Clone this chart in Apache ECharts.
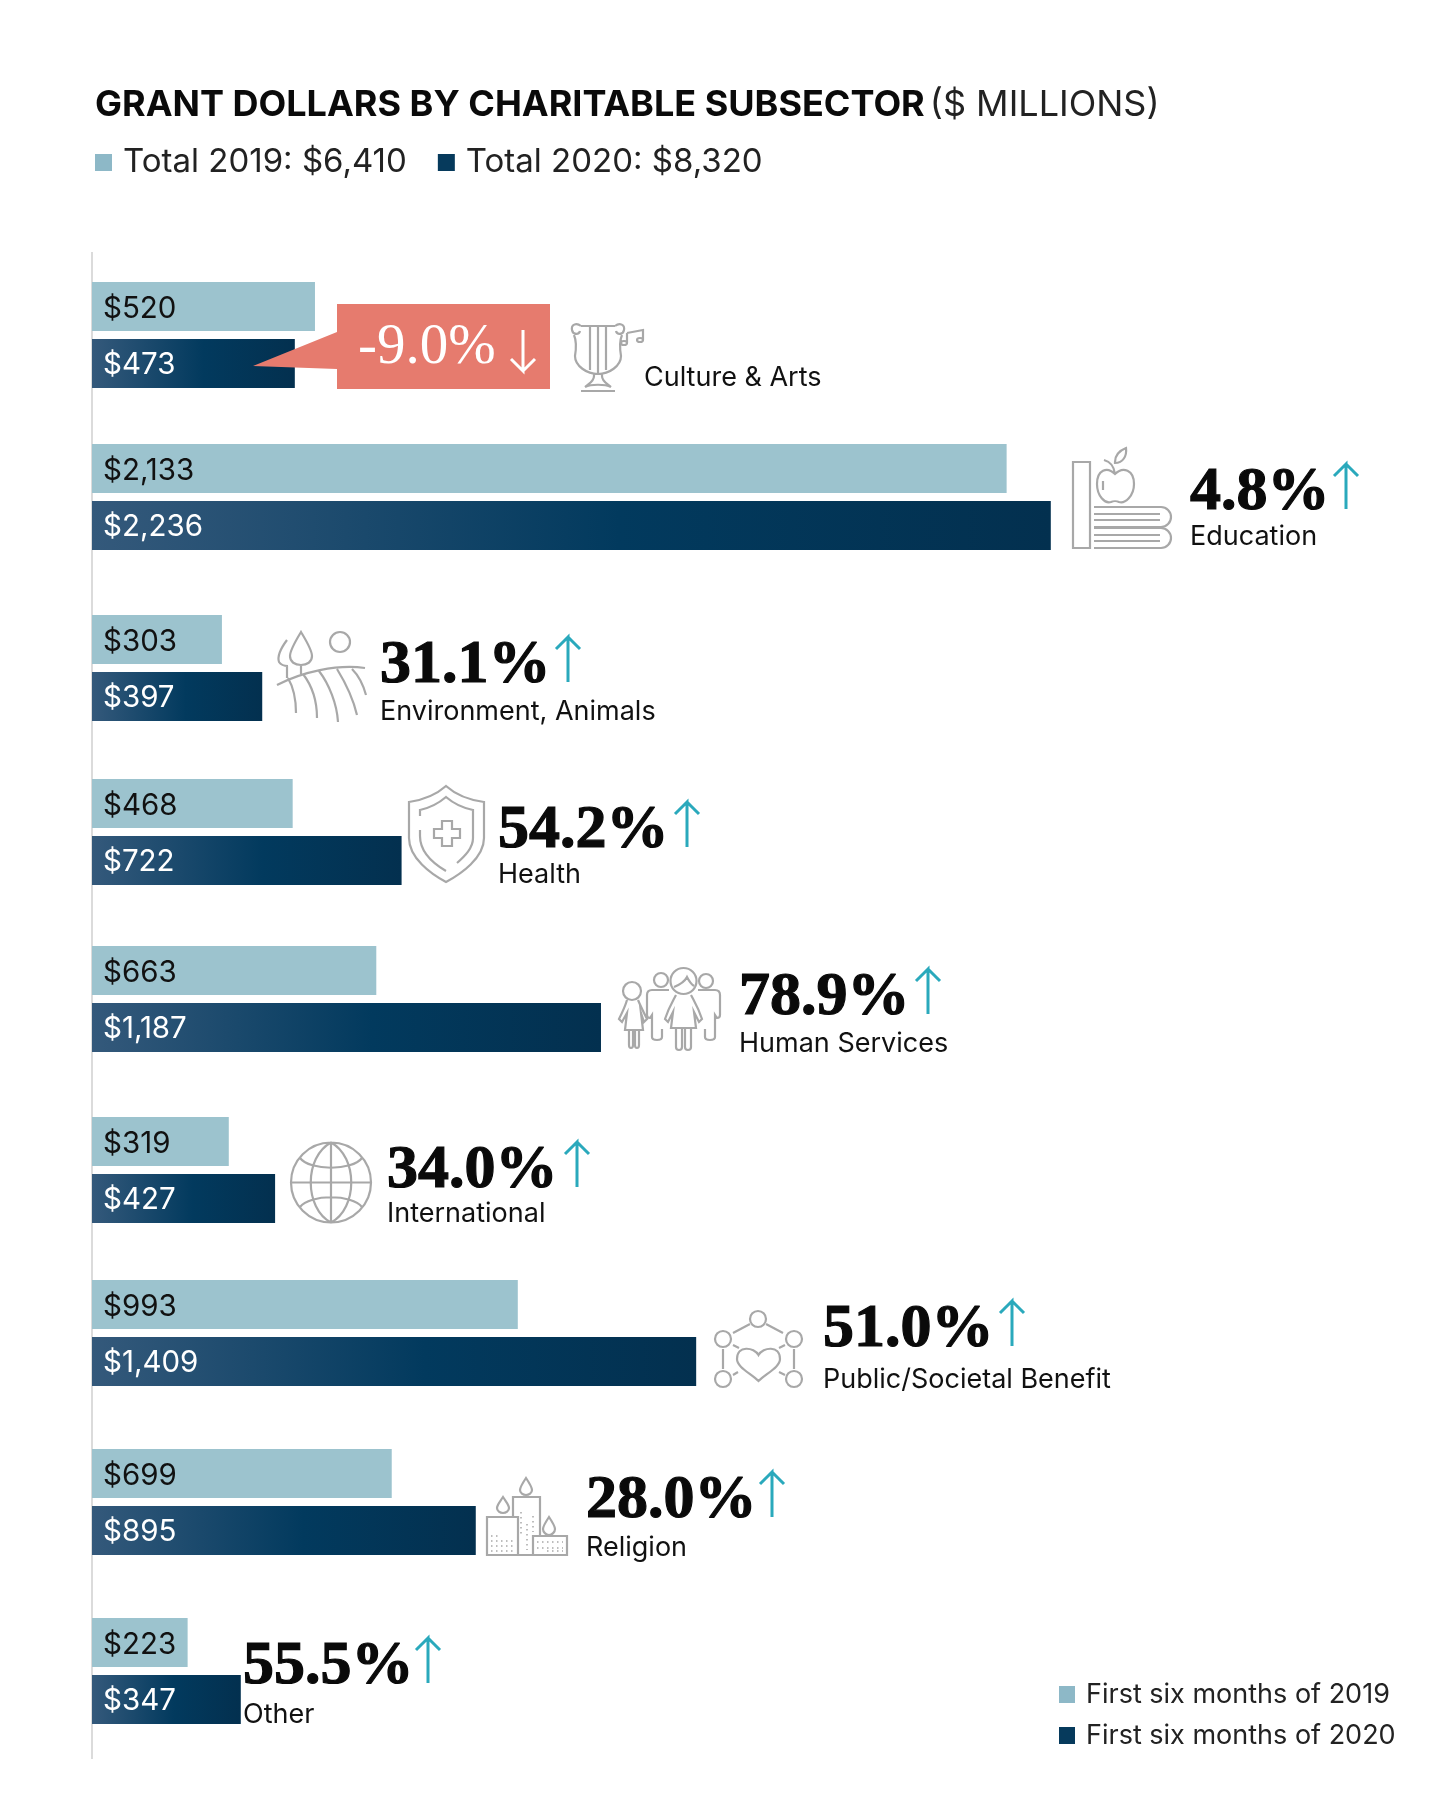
<!DOCTYPE html>
<html>
<head>
<meta charset="utf-8">
<title>Grant dollars by charitable subsector</title>
<style>
    html, body { margin: 0; padding: 0; background: #fff; }
    #chart { width: 1442px; height: 1800px; }
</style>
<script src="https://cdn.jsdelivr.net/npm/echarts@6/dist/echarts.min.js"></script>
</head>
<body>
<div id="chart"></div>
<script>
'use strict';

const categories = ['Culture & Arts', 'Education', 'Environment, Animals', 'Health', 'Human Services',
    'International', 'Public/Societal Benefit', 'Religion', 'Other'];
const values2019 = [520, 2133, 303, 468, 663, 319, 993, 699, 223];
const values2020 = [473, 2236, 397, 722, 1187, 427, 1409, 895, 347];
const changes = [-9.0, 4.8, 31.1, 54.2, 78.9, 34.0, 51.0, 28.0, 55.5];
const totals = { 'First six months of 2019': 'Total 2019: $6,410', 'First six months of 2020': 'Total 2020: $8,320' };

const sansFont = 'Inter';
const serifFont = '"Liberation Serif"';
const lightBlue = '#9cc3ce';
const gray = '#a8a8a8';
const teal = '#2aa9bc';
const coral = '#e67b6e';

// the rows in the picture are not evenly spaced, so each one gets its own grid
const rowTops = [282, 444, 615, 779, 946, 1117, 1280, 1449, 1618];
const axisLeft = 92;

// x of the percent text, its baseline, x of the arrow, baseline of the name
const notes = [
    null,
    { x: 1190, base: 509, arrow: 1346, nameBase: 544 },
    { x: 380, base: 682, arrow: 568, nameBase: 719 },
    { x: 498, base: 847, arrow: 687, nameBase: 882 },
    { x: 739, base: 1014, arrow: 928, nameBase: 1051 },
    { x: 387, base: 1187, arrow: 577, nameBase: 1221 },
    { x: 823, base: 1346, arrow: 1012, nameBase: 1387 },
    { x: 586, base: 1517, arrow: 772, nameBase: 1555 },
    { x: 243, base: 1683, arrow: 428, nameBase: 1722 },
];

const circle = (cx, cy, r) => ` M${cx + r} ${cy} a${r} ${r} 0 1 1 ${-2 * r} 0 a${r} ${r} 0 1 1 ${2 * r} 0 Z`;

const icons = [
    { x: 571, y: 322, d: 'M10 4 C5 0 0 3 1 8 C2 13 8 13 9 9 M3 13 C6 20 5 28 4 34 C4 44 16 52 27 52 C38 52 50 44 50 34 C49 28 48 20 51 13 M44 4 C49 0 54 3 53 8 C52 13 46 13 45 9'
        + ' M10 4 H44 M19 4 V48 M27 4 V51 M35 4 V48 M23 52 V54 C23 60 17 62 14 65 M31 52 V54 C31 60 37 62 40 65 M14 65 C20 62 34 62 40 65 M10 69 H44'
        + ' M56 11 L72 8 V18 M56 11 V21 M56 21 a3 2 0 1 1 -6 0 a3 2 0 1 1 6 0 M72 18 a3 2 0 1 1 -6 0 a3 2 0 1 1 6 0' },
    { x: 1073, y: 448, d: 'M0 14 H17 V100 H0 Z M21 59 H88 a10 10 0 0 1 0 20 H21 M21 80 H88 a10 10 0 0 1 0 20 H21 M21 66 H87 M21 72 H87 M21 87 H87 M21 93 H87'
        + ' M42 26 C34 18 24 22 24 36 C24 48 32 56 38 54 C40 53 44 53 46 54 C52 56 61 48 61 36 C61 22 50 18 42 26 Z M42 26 C41 18 38 14 31 12'
        + ' M42 14 C42 6 48 2 53 0 C54 8 50 15 42 15 Z M30 33 V42' },
    { x: 277, y: 632, d: 'M24 0 C18 10 13 18 13 24 C13 30 18 33 24 33 C30 33 35 30 35 24 C35 18 30 10 24 0 Z M24 33 V42 M10 8 C4 16 0 24 2 30 C4 33 8 34 11 34 M10 34 V46'
        + circle(63, 10, 10) + ' M0 53 C25 40 60 32 88 36 M11 46 C18 58 19 70 19 81 M26 42 C36 55 40 72 40 86 M42 39 C52 52 60 72 61 90 M60 37 C68 50 76 66 80 83 M75 37 C80 42 86 52 89 63' },
    { x: 409, y: 786, d: 'M37 0 C28 8 14 14 0 16 V52 C0 72 22 88 37 96 C52 88 75 72 75 52 V16 C60 14 46 8 37 0 Z'
        + ' M11 30 V24 C20 22 30 17 37 11 C44 17 54 22 64 24 V52 C64 62 56 70 48 77 M37 85 C25 78 11 66 11 50 V44'
        + ' M33 35 h10 v8 h8 v9 h-8 v8 h-10 v-8 h-8 v-9 h8 Z' },
    { x: 619, y: 967, d: circle(42, 13, 7) + circle(87, 14, 7)
        + ' M50 23 H33 Q28 23 28 28 V48 Q28 51 31 51 L33 48 V70 Q33 73 38 73 Q43 73 43 70 V62'
        + ' M79 23 H96 Q101 23 101 28 V48 Q101 51 98 51 L96 48 V70 Q96 73 91 73 Q86 73 86 70 V62'
        + circle(64.5, 14, 13) + ' M55 20 C60 18 66 14 68 10 C70 14 72 17 75 19'
        + ' M57 28 C54 34 50 40 46 52 L49 55 L54 45 L52 61 H77 L75 45 L80 55 L83 52 C79 40 75 34 72 28'
        + ' M57 61 V80 Q57 83 60 83 Q63 83 63 80 V61 M66 61 V80 Q66 83 69 83 Q72 83 72 80 V61'
        + circle(13, 24, 9) + ' M8 33 C6 40 3 46 0 52 L3 55 L8 46 L6 63 H24 L22 46 L25 55 L28 52 C25 46 22 40 19 33'
        + ' M10 63 V78 Q10 81 12 81 Q14 81 14 78 V63 M16 63 V78 Q16 81 18 81 Q20 81 20 78 V63' },
    { x: 290, y: 1141, d: circle(41, 41.5, 40) + ' M41 1.5 V81.5 M1 41.5 H81 M41 1.5 C14 16 14 67 41 81.5 C68 67 68 16 41 1.5 Z M10 17 C20 30 62 30 72 17 M10 66 C20 53 62 53 72 66' },
    { x: 714, y: 1311, d: circle(44, 8, 8) + circle(9, 28, 8) + circle(80, 28, 8) + circle(9, 68, 8) + circle(80, 68, 8)
        + ' M19 22 L36 13 M52 13 L69 22 M9 38 V58 M80 38 V58 M19 34 L25 37 M71 34 L65 37 M19 64 L24 61 M71 64 L65 61'
        + ' M44.5 44 C40 36 23 34 23 48 C23 56 36 62 44.5 70 C53 62 66 56 66 48 C66 34 49 36 44.5 44 Z' },
    { x: 487, y: 1478, d: 'M0 39 H31 V77 H0 Z M26 39 V19 H53 V58 M31 77 H80 V58 H46 V77 M39 0 C35 6 33 9 33 12 C33 15 36 17 39 17 C42 17 45 15 45 12 C45 9 43 6 39 0 Z'
        + ' M16 19 C12 25 10 27 10 30 C10 33 13 35 16 35 C19 35 22 33 22 30 C22 27 20 25 16 19 Z M62 39 C58 45 56 48 56 51 C56 54 59 57 62 57 C65 57 68 54 68 51 C68 48 66 45 62 39 Z',
        dots: 'M4 58 H14 M4 63 H26 M4 68 H26 M4 73 H28 M34 34 V56 M40 46 V72 M46 38 V54 M50 64 H76 M50 70 H76 M60 73 H76' },
];

const gradient2020 = new echarts.graphic.LinearGradient(0, 0, 1, 0, [
    { offset: 0, color: '#34597b' },
    { offset: 0.55, color: '#023a5e' },
    { offset: 1, color: '#03304f' },
]);

const money = (v) => '$' + v.toLocaleString('en-US');

const grids = [];
const xAxes = [];
const yAxes = [];
const series = [];

categories.forEach((name, i) => {
    grids.push({ left: axisLeft, top: rowTops[i], width: 1072, height: 106 });
    xAxes.push({ gridIndex: i, type: 'value', min: 0, max: 2500, show: false });
    yAxes.push({ gridIndex: i, type: 'category', data: [name], inverse: true, show: false });

    const bar = (seriesName, value, color, labelColor, offsetY) => ({
        type: 'bar',
        name: seriesName,
        xAxisIndex: i,
        yAxisIndex: i,
        data: [value],
        barWidth: 49,
        barGap: '16.3%',
        itemStyle: { color },
        silent: true,
        label: {
            show: true,
            position: 'insideLeft',
            distance: 11,
            offset: [0, offsetY],
            formatter: (p) => money(p.value),
            fontFamily: sansFont,
            fontSize: 29.5,
            color: labelColor,
        },
    });

    series.push(bar('First six months of 2019', values2019[i], lightBlue, '#111', 2.5));
    series.push(bar('First six months of 2020', values2020[i], gradient2020, '#fff', 1.5));
});

const textEl = (text, x, y, size, weight, family, fill, bolder) => ({
    type: 'text',
    z: 20,
    x,
    y,
    style: {
        text,
        font: `${weight} ${size}px ${family}`,
        fill,
        align: 'left',
        verticalAlign: 'middle',
        stroke: bolder ? fill : null,
        lineWidth: bolder || 0,
    },
});

const arrowEl = (x, top, bottom, stroke) => ({
    type: 'polyline',
    z: 20,
    shape: { points: [[x, bottom], [x, top], [x - 12, top + 12], [x, top], [x + 12, top + 12]] },
    style: { fill: 'none', stroke, lineWidth: 3 },
});

const graphics = [
    { type: 'line', z: 1, shape: { x1: axisLeft, y1: 252, x2: axisLeft, y2: 1759 }, style: { stroke: '#cfcfcf', lineWidth: 1.5 } },
    // callout for the one decline
    { type: 'polygon', z: 15, shape: { points: [[337, 304], [550, 304], [550, 389], [337, 389], [337, 369], [253, 366], [337, 332]] }, style: { fill: coral } },
    textEl(`${changes[0].toFixed(1)}%`, 358, 348, 57, 'normal', serifFont, '#fff'),
    {
        type: 'polyline',
        z: 20,
        shape: { points: [[523, 330], [523, 371], [511, 359], [523, 371], [535, 359]] },
        style: { fill: 'none', stroke: '#fff', lineWidth: 3 },
    },
    textEl(categories[0], 644, 378, 27, 'normal', sansFont, '#111'),
];

notes.forEach((n, i) => {
    if (!n) {
        return;
    }
    graphics.push(textEl(`${changes[i].toFixed(1)}%`, n.x, n.base - 16, 62, 'bold', serifFont, '#0a0a0a', 1.2));
    graphics.push(arrowEl(n.arrow, n.base - 45, n.base, teal));
    graphics.push(textEl(categories[i], n.x, n.nameBase - 7, 27, 'normal', sansFont, '#111'));
});

const pathEl = (shapeName, d, x, y, lineWidth, lineDash) => {
    echarts.graphic.registerShape(shapeName, echarts.graphic.extendPath(d, {}));
    return {
        type: shapeName,
        z: 10,
        x,
        y,
        style: { fill: 'none', stroke: gray, lineWidth, lineDash },
    };
};

icons.forEach((icon, i) => {
    graphics.push(pathEl(`icon${i}`, icon.d, icon.x, icon.y, 2.2));
    if (icon.dots) {
        graphics.push(pathEl(`dots${i}`, icon.dots, icon.x, icon.y, 1.5, [1.5, 3.5]));
    }
});

const legendData = [
    { name: 'First six months of 2019', itemStyle: { color: '#8db8c7' } },
    { name: 'First six months of 2020', itemStyle: { color: '#063a5c' } },
];

const chart = echarts.init(document.getElementById('chart'));

chart.setOption({
    backgroundColor: '#fff',
    animation: false,
    title: {
        left: 95,
        top: 87,
        padding: 0,
        text: '{b|GRANT DOLLARS BY CHARITABLE SUBSECTOR} {r|($ MILLIONS)}',
        textStyle: {
            rich: {
                b: { fontFamily: sansFont, fontWeight: 'bold', fontSize: 36, color: '#0a0a0a' },
                r: { fontFamily: sansFont, fontWeight: 'normal', fontSize: 36, color: '#222' },
            },
        },
    },
    legend: [
        {
            left: 95,
            top: 146,
            padding: 0,
            icon: 'rect',
            itemWidth: 17,
            itemHeight: 17,
            itemGap: 31,
            selectedMode: false,
            data: legendData,
            formatter: (name) => totals[name],
            textStyle: { fontFamily: sansFont, fontSize: 33, color: '#222', padding: [0, 0, 0, 6] },
        },
        {
            left: 1059,
            top: 1681,
            padding: 0,
            orient: 'vertical',
            icon: 'rect',
            itemWidth: 16,
            itemHeight: 17,
            itemGap: 14,
            selectedMode: false,
            data: legendData,
            textStyle: { fontFamily: sansFont, fontSize: 27, color: '#222', padding: [0, 0, 0, 6] },
        },
    ],
    grid: grids,
    xAxis: xAxes,
    yAxis: yAxes,
    series,
    graphic: graphics,
});
</script>
</body>
</html>
